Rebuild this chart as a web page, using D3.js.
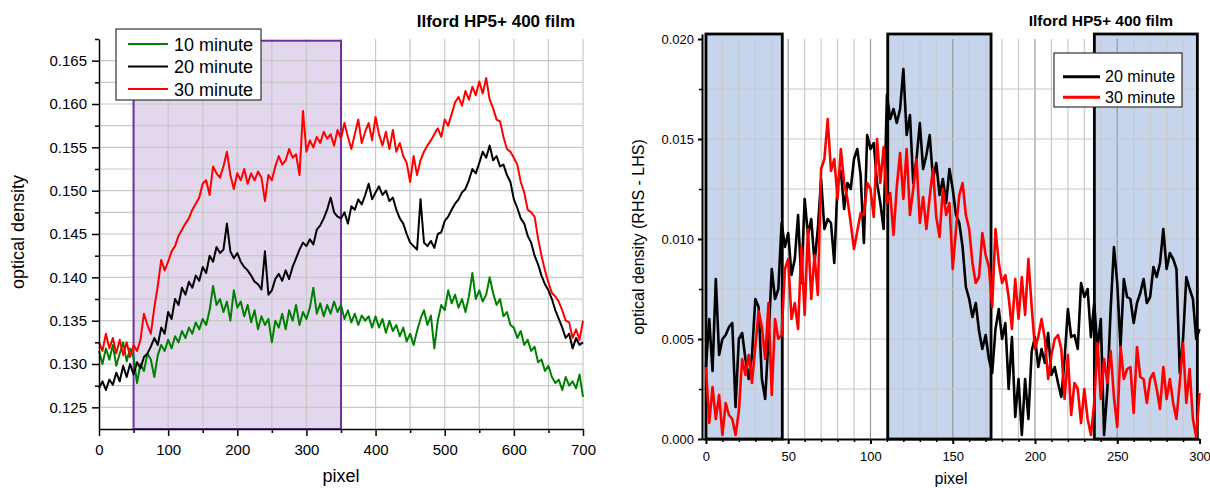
<!DOCTYPE html>
<html>
<head>
<meta charset="utf-8">
<script src="https://cdn.jsdelivr.net/npm/d3@7"></script>
<style>
body { margin: 0; background: #fff; }
svg { display: block; font-family: "Liberation Sans", Arial, sans-serif; }
</style>
</head>
<body>
<svg id="chart" width="1210" height="488"></svg>
<script>
// ---- left panel data (optical density vs pixel) ----
var leftPixel = [
  0,5,10,15,20,25,30,35,40,45, 50,55,60,65,70,75,80,85,90,95,
  100,105,110,115,120,125,130,135,140,145, 150,155,160,165,170,175,180,185,190,195,
  200,205,210,215,220,225,230,235,240,245, 250,255,260,265,270,275,280,285,290,295,
  300,305,310,315,320,325,330,335,340,345, 350,355,360,365,370,375,380,385,390,395,
  400,405,410,415,420,425,430,435,440,445, 450,455,460,465,470,475,480,485,490,495,
  500,505,510,515,520,525,530,535,540,545, 550,555,560,565,570,575,580,585,590,595,
  600,605,610,615,620,625,630,635,640,645, 650,655,660,665,670,675,680,685,690,695,
  700
];
var od10 = [
  0.1315,0.1300,0.1318,0.1305,0.1322,0.1298,0.1312,0.1325,0.1303,0.1318,
  0.1308,0.1278,0.1300,0.1292,0.1312,0.1305,0.1285,0.1310,0.1322,0.1315,
  0.1328,0.1318,0.1332,0.1325,0.1338,0.1330,0.1342,0.1335,0.1348,0.1340,
  0.1352,0.1345,0.1362,0.1390,0.1368,0.1375,0.1360,0.1372,0.1350,0.1385,
  0.1365,0.1372,0.1355,0.1368,0.1348,0.1362,0.1340,0.1355,0.1345,0.1352,
  0.1325,0.1350,0.1342,0.1358,0.1340,0.1362,0.1350,0.1368,0.1345,0.1360,
  0.1352,0.1365,0.1388,0.1358,0.1370,0.1355,0.1368,0.1358,0.1372,0.1360,
  0.1368,0.1352,0.1362,0.1348,0.1358,0.1345,0.1356,0.1350,0.1355,0.1342,
  0.1355,0.1342,0.1352,0.1336,0.1350,0.1338,0.1345,0.1332,0.1342,0.1326,
  0.1335,0.1322,0.1338,0.1352,0.1362,0.1345,0.1356,0.1318,0.1350,0.1368,
  0.1362,0.1385,0.1370,0.1380,0.1365,0.1375,0.1360,0.1378,0.1405,0.1375,
  0.1385,0.1372,0.1380,0.1400,0.1382,0.1368,0.1375,0.1355,0.1360,0.1345,
  0.1342,0.1330,0.1338,0.1322,0.1328,0.1315,0.1320,0.1302,0.1305,0.1292,
  0.1298,0.1285,0.1278,0.1282,0.1270,0.1285,0.1275,0.1280,0.1272,0.1288,
  0.1262
];
var od20 = [
  0.1272,0.1280,0.1270,0.1282,0.1276,0.1290,0.1280,0.1298,0.1285,0.1300,
  0.1288,0.1302,0.1295,0.1308,0.1312,0.1320,0.1330,0.1322,0.1342,0.1335,
  0.1360,0.1352,0.1375,0.1368,0.1388,0.1380,0.1395,0.1388,0.1402,0.1396,
  0.1412,0.1405,0.1425,0.1418,0.1435,0.1428,0.1432,0.1462,0.1430,0.1422,
  0.1428,0.1418,0.1412,0.1408,0.1402,0.1395,0.1392,0.1386,0.1430,0.1380,
  0.1385,0.1398,0.1404,0.1396,0.1408,0.1398,0.1412,0.1422,0.1432,0.1440,
  0.1436,0.1444,0.1438,0.1455,0.1460,0.1468,0.1478,0.1492,0.1475,0.1470,
  0.1468,0.1475,0.1462,0.1482,0.1478,0.1490,0.1484,0.1495,0.1508,0.1490,
  0.1498,0.1505,0.1495,0.1500,0.1488,0.1492,0.1478,0.1468,0.1462,0.1450,
  0.1440,0.1436,0.1432,0.1490,0.1440,0.1436,0.1442,0.1434,0.1450,0.1452,
  0.1465,0.1470,0.1478,0.1485,0.1490,0.1498,0.1502,0.1512,0.1525,0.1520,
  0.1532,0.1545,0.1538,0.1552,0.1535,0.1540,0.1528,0.1530,0.1518,0.1510,
  0.1490,0.1480,0.1468,0.1462,0.1448,0.1440,0.1425,0.1415,0.1402,0.1392,
  0.1385,0.1375,0.1362,0.1352,0.1342,0.1330,0.1335,0.1318,0.1330,0.1322,
  0.1325
];
var od30 = [
  0.1325,0.1315,0.1335,0.1318,0.1330,0.1312,0.1328,0.1310,0.1325,0.1308,
  0.1322,0.1315,0.1328,0.1358,0.1345,0.1335,0.1365,0.1390,0.1420,0.1408,
  0.1418,0.1430,0.1436,0.1448,0.1455,0.1462,0.1468,0.1478,0.1485,0.1492,
  0.1508,0.1512,0.1495,0.1528,0.1520,0.1515,0.1528,0.1545,0.1518,0.1502,
  0.1520,0.1512,0.1525,0.1508,0.1520,0.1512,0.1522,0.1515,0.1488,0.1518,
  0.1512,0.1528,0.1540,0.1530,0.1535,0.1548,0.1538,0.1542,0.1518,0.1592,
  0.1545,0.1558,0.1550,0.1562,0.1555,0.1568,0.1560,0.1565,0.1552,0.1570,
  0.1560,0.1578,0.1562,0.1548,0.1565,0.1582,0.1555,0.1568,0.1578,0.1558,
  0.1585,0.1565,0.1552,0.1568,0.1548,0.1570,0.1545,0.1555,0.1540,0.1532,
  0.1510,0.1540,0.1518,0.1535,0.1545,0.1552,0.1558,0.1565,0.1572,0.1562,
  0.1582,0.1575,0.1588,0.1602,0.1608,0.1598,0.1615,0.1605,0.1620,0.1610,
  0.1626,0.1612,0.1630,0.1605,0.1595,0.1582,0.1580,0.1562,0.1548,0.1545,
  0.1538,0.1530,0.1510,0.1498,0.1478,0.1475,0.1470,0.1445,0.1425,0.1408,
  0.1394,0.1382,0.1378,0.1372,0.1362,0.1350,0.1348,0.1330,0.1340,0.1328,
  0.1350
];
var leftNames = ["10 minute", "20 minute", "30 minute"];
var leftColors = ["#008000", "#000000", "#ff0000"];
var leftTicksX = [0, 100, 200, 300, 400, 500, 600, 700];
var leftTicksY = [0.125, 0.130, 0.135, 0.140, 0.145, 0.150, 0.155, 0.160, 0.165];
var leftShade = [50, 350];

// ---- right panel data (RHS - LHS difference) ----
var rightPixel = [
  0,2,4,6,8,10,12,14,16,18, 20,22,24,26,28,30,32,34,36,38,
  40,42,44,46,48,50,52,54,56,58, 60,62,64,66,68,70,72,74,76,78,
  80,82,84,86,88,90,92,94,96,98, 100,102,104,106,108,110,112,114,116,118,
  120,122,124,126,128,130,132,134,136,138, 140,142,144,146,148,150,152,154,156,158,
  160,162,164,166,168,170,172,174,176,178, 180,182,184,186,188,190,192,194,196,198,
  200,202,204,206,208,210,212,214,216,218, 220,222,224,226,228,230,232,234,236,238,
  240,242,244,246,248,250,252,254,256,258, 260,262,264,266,268,270,272,274,276,278,
  280,282,284,286,288,290,292,294,296,298, 300
];
var diff20 = [
  0.0036,0.0060,0.0034,0.0080,0.0042,0.0050,0.0052,0.0056,0.0058,0.0016,
  0.0050,0.0053,0.0040,0.0030,0.0042,0.0070,0.0066,0.0030,0.0020,0.0050,
  0.0085,0.0070,0.0075,0.0108,0.0096,0.0103,0.0082,0.0090,0.0112,0.0078,
  0.0120,0.0102,0.0110,0.0088,0.0105,0.0130,0.0105,0.0110,0.0108,0.0088,
  0.0128,0.0134,0.0115,0.0128,0.0125,0.0140,0.0145,0.0132,0.0098,0.0152,
  0.0145,0.0148,0.0128,0.0118,0.0105,0.0172,0.0160,0.0165,0.0158,0.0165,
  0.0185,0.0152,0.0162,0.0128,0.0140,0.0158,0.0135,0.0142,0.0152,0.0130,
  0.0138,0.0122,0.0130,0.0118,0.0135,0.0125,0.0112,0.0108,0.0096,0.0076,
  0.0070,0.0061,0.0068,0.0054,0.0045,0.0052,0.0040,0.0033,0.0055,0.0065,
  0.0050,0.0058,0.0025,0.0051,0.0011,0.0030,0.0002,0.0030,0.0010,0.0044,
  0.0051,0.0036,0.0045,0.0038,0.0053,0.0032,0.0036,0.0028,0.0021,0.0040,
  0.0065,0.0051,0.0052,0.0045,0.0078,0.0071,0.0075,0.0051,0.0068,0.0045,
  0.0060,0.0002,0.0025,0.0065,0.0096,0.0078,0.0046,0.0080,0.0071,0.0070,
  0.0058,0.0068,0.0073,0.0080,0.0068,0.0071,0.0086,0.0081,0.0088,0.0105,
  0.0085,0.0093,0.0090,0.0085,0.0033,0.0050,0.0081,0.0075,0.0070,0.0050,
  0.0055
];
var diff30 = [
  0.0036,0.0008,0.0026,0.0010,0.0022,0.0002,0.0018,0.0012,0.0010,0.0002,
  0.0014,0.0040,0.0032,0.0042,0.0028,0.0046,0.0064,0.0056,0.0040,0.0068,
  0.0022,0.0060,0.0050,0.0052,0.0085,0.0090,0.0060,0.0068,0.0055,0.0096,
  0.0062,0.0105,0.0070,0.0092,0.0072,0.0135,0.0140,0.0160,0.0134,0.0140,
  0.0120,0.0145,0.0128,0.0120,0.0108,0.0095,0.0104,0.0113,0.0112,0.0128,
  0.0125,0.0111,0.0150,0.0128,0.0146,0.0118,0.0123,0.0102,0.0126,0.0143,
  0.0120,0.0145,0.0112,0.0125,0.0140,0.0108,0.0121,0.0105,0.0121,0.0135,
  0.0111,0.0101,0.0125,0.0112,0.0118,0.0085,0.0105,0.0122,0.0128,0.0112,
  0.0105,0.0088,0.0078,0.0081,0.0103,0.0092,0.0086,0.0066,0.0105,0.0088,
  0.0078,0.0082,0.0071,0.0055,0.0080,0.0060,0.0081,0.0062,0.0090,0.0066,
  0.0045,0.0051,0.0060,0.0050,0.0030,0.0042,0.0050,0.0052,0.0045,0.0020,
  0.0042,0.0012,0.0028,0.0025,0.0008,0.0025,0.0010,0.0002,0.0018,0.0048,
  0.0020,0.0040,0.0028,0.0044,0.0021,0.0006,0.0046,0.0030,0.0035,0.0036,
  0.0013,0.0046,0.0031,0.0030,0.0018,0.0030,0.0033,0.0025,0.0015,0.0036,
  0.0020,0.0030,0.0018,0.0010,0.0028,0.0048,0.0018,0.0035,0.0010,0.0001,
  0.0023
];
var rightNames = ["20 minute", "30 minute"];
var rightColors = ["#000000", "#ff0000"];
var rightTicksX = [0, 50, 100, 150, 200, 250, 300];
var rightTicksY = [0.000, 0.005, 0.010, 0.015, 0.020];
var rightRegions = [[0, 46.4], [110.5, 173.3], [236.1, 298.7]];

var title = "Ilford HP5+ 400 film";
var FONT = '"Liberation Sans", Arial, sans-serif';

var svg = d3.select("#chart");

function styleAxis(g, size, width) {
    g.attr("font-family", FONT).attr("font-size", size);
    g.select(".domain").attr("stroke", "#000").attr("stroke-width", width);
    g.selectAll(".tick line").attr("stroke", "#000").attr("stroke-width", width);
    g.selectAll(".tick text").attr("fill", "#000");
}

function gridLines(g, xs, ys, x, y, color) {
    g.append("g").selectAll("line").data(xs).join("line")
        .attr("x1", d => x(d)).attr("x2", d => x(d))
        .attr("y1", y.range()[1]).attr("y2", y.range()[0])
        .attr("stroke", typeof color === "function" ? d => color(d) : color)
        .attr("stroke-width", 1.2);
    g.append("g").selectAll("line").data(ys).join("line")
        .attr("x1", x.range()[0]).attr("x2", x.range()[1])
        .attr("y1", d => y(d)).attr("y2", d => y(d))
        .attr("stroke", "#c8c8c8")
        .attr("stroke-width", 1.2);
}

// ================= left panel =================
var lx = d3.scaleLinear().domain([0, 700]).range([99, 583]);
var ly = d3.scaleLinear().domain([0.1225, 0.1675]).range([429, 39]);
var L = svg.append("g");

var shadeTop = 0.1673;
L.append("rect")
    .attr("x", lx(leftShade[0]))
    .attr("y", ly(shadeTop))
    .attr("width", lx(leftShade[1]) - lx(leftShade[0]))
    .attr("height", ly(0.1225) - ly(shadeTop))
    .attr("fill", "#e2d7ec");

gridLines(L, d3.range(50, 701, 50), d3.range(0, 17).map(i => 0.125 + i * 0.0025), lx, ly, "#c8c8c8");

L.append("rect")
    .attr("x", lx(leftShade[0]))
    .attr("y", ly(shadeTop))
    .attr("width", lx(leftShade[1]) - lx(leftShade[0]))
    .attr("height", ly(0.1225) - ly(shadeTop))
    .attr("fill", "none")
    .attr("stroke", "#7030a0")
    .attr("stroke-width", 2);

var lline = d3.line().x((d, i) => lx(leftPixel[i])).y(d => ly(d));
[od10, od20, od30].forEach(function(s, k) {
    L.append("path")
        .attr("d", lline(s))
        .attr("fill", "none")
        .attr("stroke", leftColors[k])
        .attr("stroke-width", 2)
        .attr("stroke-linejoin", "round");
});

// axes
var lax = L.append("g").attr("transform", "translate(0,429)")
    .call(d3.axisBottom(lx).tickValues(leftTicksX).tickSize(7).tickPadding(8).tickSizeOuter(0));
styleAxis(lax, 15, 1.5);
L.append("g").attr("transform", "translate(0,429)")
    .call(d3.axisBottom(lx).tickValues([50, 150, 250, 350, 450, 550, 650]).tickSize(4).tickFormat("").tickSizeOuter(0))
    .call(g => { g.select(".domain").remove(); g.selectAll("line").attr("stroke", "#000").attr("stroke-width", 1.5); });

var lay = L.append("g").attr("transform", "translate(99,0)")
    .call(d3.axisLeft(ly).tickValues(leftTicksY).tickFormat(d3.format(".3f")).tickSize(7).tickPadding(5).tickSizeOuter(0));
styleAxis(lay, 15, 1.5);
L.append("g").attr("transform", "translate(99,0)")
    .call(d3.axisLeft(ly).tickValues(d3.range(0, 9).map(i => 0.1275 + i * 0.005)).tickSize(4).tickFormat("").tickSizeOuter(0))
    .call(g => { g.select(".domain").remove(); g.selectAll("line").attr("stroke", "#000").attr("stroke-width", 1.5); });

L.append("text").attr("x", 341).attr("y", 482)
    .attr("text-anchor", "middle").attr("font-size", 18).text("pixel");
L.append("text").attr("transform", "translate(24,232) rotate(-90)")
    .attr("text-anchor", "middle").attr("font-size", 18).text("optical density");
L.append("text").attr("x", 575).attr("y", 27)
    .attr("text-anchor", "end").attr("font-size", 17).attr("font-weight", "bold").text(title);

// legend
var lleg = L.append("g");
lleg.append("rect").attr("x", 116).attr("y", 29).attr("width", 145).attr("height", 71)
    .attr("fill", "#fff").attr("stroke", "#333").attr("stroke-width", 1.2);
leftNames.forEach(function(n, k) {
    var yy = 44 + k * 22.5;
    lleg.append("line").attr("x1", 128).attr("x2", 168).attr("y1", yy).attr("y2", yy)
        .attr("stroke", leftColors[k]).attr("stroke-width", 2);
    lleg.append("text").attr("x", 174).attr("y", yy + 6.5).attr("font-size", 18).text(n);
});

// ================= right panel =================
var rx = d3.scaleLinear().domain([-2.4, 300]).range([702, 1199.5]);
var ry = d3.scaleLinear().domain([0, 0.02025]).range([439, 34]);
var R = svg.append("g");

R.append("g").selectAll("rect").data(rightRegions).join("rect")
    .attr("x", d => rx(d[0])).attr("y", ry(0.02025))
    .attr("width", d => rx(d[1]) - rx(d[0]))
    .attr("height", ry(0) - ry(0.02025))
    .attr("fill", "#c6d4ec");

var ryGrid = d3.scaleLinear().domain([0, 0.02]).range([439, 39]);
gridLines(R, d3.range(10, 300, 10), d3.range(1, 8).map(i => i * 0.0025), rx, ryGrid,
    d => (d % 50 === 0 ? "#9a9a9a" : "#cacaca"));

R.append("g").selectAll("rect").data(rightRegions).join("rect")
    .attr("x", d => rx(d[0])).attr("y", ry(0.02025))
    .attr("width", d => rx(d[1]) - rx(d[0]))
    .attr("height", ry(0) - ry(0.02025))
    .attr("fill", "none").attr("stroke", "#000").attr("stroke-width", 2.8);

var rline = d3.line().x((d, i) => rx(rightPixel[i])).y(d => ry(d));
[diff20, diff30].forEach(function(s, k) {
    R.append("path")
        .attr("d", rline(s))
        .attr("fill", "none")
        .attr("stroke", rightColors[k])
        .attr("stroke-width", 2.6)
        .attr("stroke-linejoin", "round");
});

var rax = R.append("g").attr("transform", "translate(0,439)")
    .call(d3.axisBottom(rx).tickValues(rightTicksX).tickSize(5).tickPadding(8).tickSizeOuter(0));
styleAxis(rax, 13, 2);
R.append("g").attr("transform", "translate(0,439)")
    .call(d3.axisBottom(rx).tickValues(d3.range(10, 300, 10).filter(d => d % 50 !== 0)).tickSize(3).tickFormat("").tickSizeOuter(0))
    .call(g => { g.select(".domain").remove(); g.selectAll("line").attr("stroke", "#000").attr("stroke-width", 1.5); });

var ray = R.append("g").attr("transform", "translate(702,0)")
    .call(d3.axisLeft(ry).tickValues(rightTicksY).tickFormat(d3.format(".3f")).tickSize(4).tickPadding(4).tickSizeOuter(0));
styleAxis(ray, 13, 2);
R.append("g").attr("transform", "translate(702,0)")
    .call(d3.axisLeft(ry).tickValues([0.0025, 0.0075, 0.0125, 0.0175]).tickSize(3).tickFormat("").tickSizeOuter(0))
    .call(g => { g.select(".domain").remove(); g.selectAll("line").attr("stroke", "#000").attr("stroke-width", 1.5); });

// axis title kept just inside the bottom edge
R.append("text").attr("x", 951).attr("y", 484)
    .attr("text-anchor", "middle").attr("font-size", 16).text("pixel");
R.append("text").attr("transform", "translate(644,237) rotate(-90)")
    .attr("text-anchor", "middle").attr("font-size", 16).text("optical density (RHS - LHS)");
R.append("text").attr("x", 1173).attr("y", 26)
    .attr("text-anchor", "end").attr("font-size", 15.5).attr("font-weight", "bold").text(title);

var rleg = R.append("g");
rleg.append("rect").attr("x", 1054).attr("y", 53).attr("width", 128).attr("height", 54)
    .attr("fill", "#fff").attr("stroke", "#333").attr("stroke-width", 1.2);
rightNames.forEach(function(n, k) {
    var yy = 76.7 + k * 20.6;
    rleg.append("line").attr("x1", 1063).attr("x2", 1100).attr("y1", yy).attr("y2", yy)
        .attr("stroke", rightColors[k]).attr("stroke-width", 3);
    rleg.append("text").attr("x", 1105).attr("y", yy + 5.6).attr("font-size", 16).text(n);
});
</script>
</body>
</html>
